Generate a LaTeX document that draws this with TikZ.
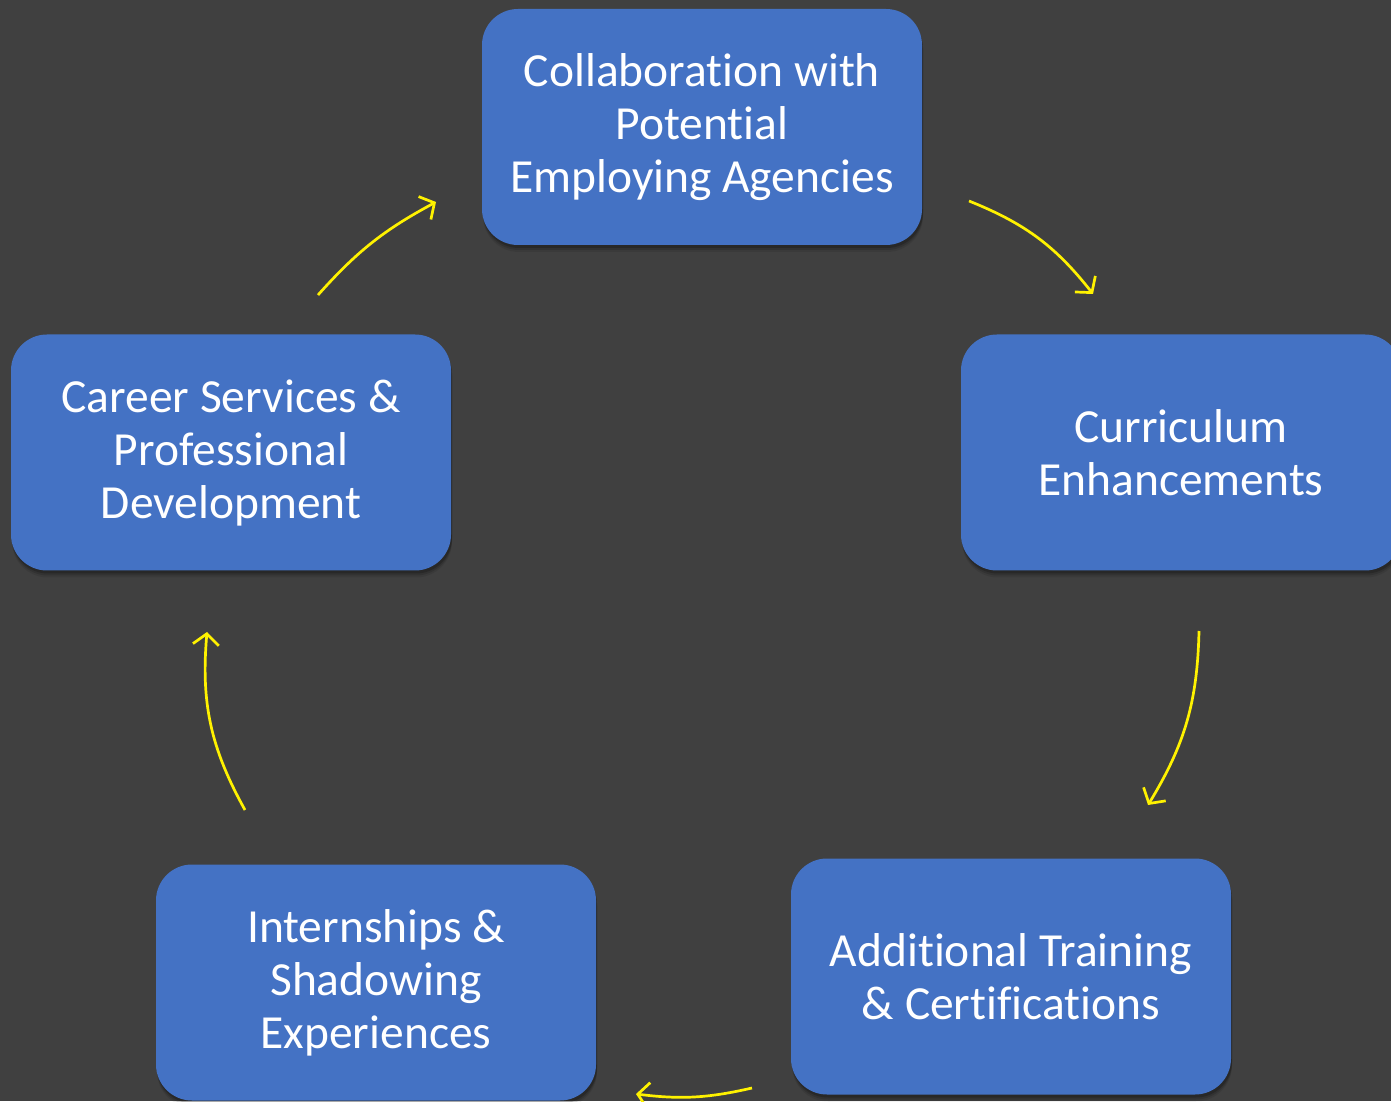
\documentclass[tikz,border=0pt]{standalone}
\usepackage{fontspec}
\setmainfont{Carlito}[RawFeature={-liga,-clig,-calt,-dlig}]
\usetikzlibrary{arrows.meta,shadows}
\definecolor{slidebg}{HTML}{404040}
\definecolor{boxblue}{HTML}{4472C4}
\begin{document}
\begin{tikzpicture}[x=1pt, y=1pt,
        stage/.style={rectangle, rounded corners=36pt, fill=boxblue, text=white,
            minimum width=440pt, minimum height=236pt, align=center,
            font=\fontsize{47.5}{53}\selectfont,
            drop shadow={shadow xshift=1pt, shadow yshift=-7pt, opacity=0.08, fill=black},
            drop shadow={shadow xshift=1pt, shadow yshift=-5pt, opacity=0.12, fill=black},
            drop shadow={shadow xshift=1pt, shadow yshift=-3pt, opacity=0.18, fill=black}},
        arrow/.style={-{Straight Barb[length=11pt, width=26pt]}, line width=2.7pt, yellow}
    ]
        \fill[slidebg] (0,0) rectangle (1391,1101);
        \useasboundingbox (0,0) rectangle (1391,1101);

        \node[stage] (collab) at (702,974) {Collaboration with\\Potential\\Employing Agencies};
        \node[stage] (curric) at (1181,648.5) {Curriculum\\Enhancements};
        \node[stage] (training) at (1011,124.5) {Additional Training\\\& Certifications};
        \node[stage] (intern) at (376,118.5) {Internships \&\\Shadowing\\Experiences};
        \node[stage] (career) at (231,648.5) {Career Services \&\\Professional\\Development};

        % arrow ends
        \coordinate (collab-out) at (969,900);
        \coordinate (curric-in) at (1093,807);
        \coordinate (curric-out) at (1199,470);
        \coordinate (training-in) at (1148,296);
        \coordinate (training-out) at (752,13);
        \coordinate (intern-in) at (636,7);
        \coordinate (intern-out) at (245,291);
        \coordinate (career-in) at (207,469);
        \coordinate (career-out) at (318,806);
        \coordinate (collab-in) at (436,899);

        \draw[arrow] (collab-out) to[bend left=15] (curric-in);
        \draw[arrow] (curric-out) to[bend left=15] (training-in);
        \draw[arrow] (training-out) to[bend left=10] (intern-in);
        \draw[arrow] (intern-out) to[bend left=17] (career-in);
        \draw[arrow] (career-out) to[bend left=10] (collab-in);
    \end{tikzpicture}
\end{document}
